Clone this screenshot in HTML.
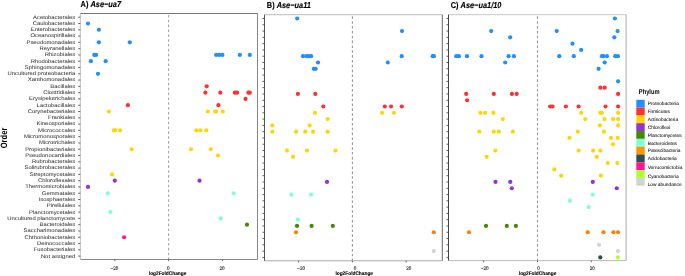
<!DOCTYPE html>
<html><head><meta charset="utf-8"><style>
html,body{margin:0;padding:0;background:#fff;width:685px;height:276px;overflow:hidden}
svg{display:block;text-rendering:geometricPrecision}
</style></head><body>
<svg width="685" height="276" viewBox="0 0 685 276" font-family='"Liberation Sans", Arial, Helvetica, sans-serif'>
<rect width="685" height="276" fill="#fff"/>
<line x1="168.6" y1="14.9" x2="168.6" y2="259.5" stroke="#a8a8a8" stroke-width="1.1" stroke-dasharray="2.6 2.253"/>
<circle cx="88.0" cy="23.49" r="2.1" fill="#1E90FF"/>
<circle cx="98.9" cy="29.77" r="2.1" fill="#1E90FF"/>
<circle cx="98.9" cy="42.35" r="2.1" fill="#1E90FF"/>
<circle cx="129.8" cy="42.35" r="2.1" fill="#1E90FF"/>
<circle cx="94.3" cy="54.92" r="2.1" fill="#1E90FF"/>
<circle cx="96.1" cy="54.92" r="2.1" fill="#1E90FF"/>
<circle cx="216.2" cy="54.92" r="2.1" fill="#1E90FF"/>
<circle cx="219.3" cy="54.92" r="2.1" fill="#1E90FF"/>
<circle cx="222.4" cy="54.92" r="2.1" fill="#1E90FF"/>
<circle cx="239.8" cy="54.92" r="2.1" fill="#1E90FF"/>
<circle cx="249.8" cy="54.92" r="2.1" fill="#1E90FF"/>
<circle cx="90.9" cy="61.21" r="2.1" fill="#1E90FF"/>
<circle cx="105.7" cy="61.21" r="2.1" fill="#1E90FF"/>
<circle cx="98.0" cy="73.78" r="2.1" fill="#1E90FF"/>
<circle cx="206.7" cy="86.36" r="2.1" fill="#FF3030"/>
<circle cx="205.4" cy="92.64" r="2.1" fill="#FF3030"/>
<circle cx="220.3" cy="92.64" r="2.1" fill="#FF3030"/>
<circle cx="234.8" cy="92.64" r="2.1" fill="#FF3030"/>
<circle cx="237.1" cy="92.64" r="2.1" fill="#FF3030"/>
<circle cx="248.4" cy="92.64" r="2.1" fill="#FF3030"/>
<circle cx="249.8" cy="92.64" r="2.1" fill="#FF3030"/>
<circle cx="245.5" cy="98.93" r="2.1" fill="#FF3030"/>
<circle cx="127.9" cy="105.22" r="2.1" fill="#FF3030"/>
<circle cx="218.4" cy="105.22" r="2.1" fill="#FF3030"/>
<circle cx="108.9" cy="111.50" r="2.1" fill="#FFD700"/>
<circle cx="207.9" cy="111.50" r="2.1" fill="#FFD700"/>
<circle cx="215.2" cy="111.50" r="2.1" fill="#FFD700"/>
<circle cx="216.2" cy="111.50" r="2.1" fill="#FFD700"/>
<circle cx="222.8" cy="111.50" r="2.1" fill="#FFD700"/>
<circle cx="113.8" cy="130.37" r="2.1" fill="#FFD700"/>
<circle cx="115.2" cy="130.37" r="2.1" fill="#FFD700"/>
<circle cx="120.1" cy="130.37" r="2.1" fill="#FFD700"/>
<circle cx="196.4" cy="130.37" r="2.1" fill="#FFD700"/>
<circle cx="200.4" cy="130.37" r="2.1" fill="#FFD700"/>
<circle cx="206.3" cy="130.37" r="2.1" fill="#FFD700"/>
<circle cx="131.7" cy="149.23" r="2.1" fill="#FFD700"/>
<circle cx="191.0" cy="149.23" r="2.1" fill="#FFD700"/>
<circle cx="210.8" cy="149.23" r="2.1" fill="#FFD700"/>
<circle cx="218.0" cy="155.51" r="2.1" fill="#FFD700"/>
<circle cx="112.0" cy="174.38" r="2.1" fill="#FFD700"/>
<circle cx="114.8" cy="180.66" r="2.1" fill="#9932CC"/>
<circle cx="199.5" cy="180.66" r="2.1" fill="#9932CC"/>
<circle cx="88.0" cy="186.95" r="2.1" fill="#9932CC"/>
<circle cx="107.9" cy="193.24" r="2.1" fill="#7FFFD4"/>
<circle cx="233.7" cy="193.24" r="2.1" fill="#7FFFD4"/>
<circle cx="110.4" cy="212.10" r="2.1" fill="#7FFFD4"/>
<circle cx="220.8" cy="218.38" r="2.1" fill="#7FFFD4"/>
<circle cx="247.0" cy="224.67" r="2.1" fill="#458B00"/>
<circle cx="124.1" cy="237.24" r="2.1" fill="#FF1493"/>
<line x1="80.3" y1="13.5" x2="257.5" y2="13.5" stroke="#777" stroke-width="1"/>
<line x1="257.5" y1="13.5" x2="257.5" y2="259.5" stroke="#888" stroke-width="1"/>
<line x1="80.3" y1="259.5" x2="257.5" y2="259.5" stroke="#888" stroke-width="1"/>
<line x1="80.3" y1="13.5" x2="80.3" y2="259.5" stroke="#bdbdbd" stroke-width="1"/>
<line x1="78.2" y1="17.20" x2="80.3" y2="17.20" stroke="#333" stroke-width="0.75"/>
<line x1="78.2" y1="23.49" x2="80.3" y2="23.49" stroke="#333" stroke-width="0.75"/>
<line x1="78.2" y1="29.77" x2="80.3" y2="29.77" stroke="#333" stroke-width="0.75"/>
<line x1="78.2" y1="36.06" x2="80.3" y2="36.06" stroke="#333" stroke-width="0.75"/>
<line x1="78.2" y1="42.35" x2="80.3" y2="42.35" stroke="#333" stroke-width="0.75"/>
<line x1="78.2" y1="48.63" x2="80.3" y2="48.63" stroke="#333" stroke-width="0.75"/>
<line x1="78.2" y1="54.92" x2="80.3" y2="54.92" stroke="#333" stroke-width="0.75"/>
<line x1="78.2" y1="61.21" x2="80.3" y2="61.21" stroke="#333" stroke-width="0.75"/>
<line x1="78.2" y1="67.50" x2="80.3" y2="67.50" stroke="#333" stroke-width="0.75"/>
<line x1="78.2" y1="73.78" x2="80.3" y2="73.78" stroke="#333" stroke-width="0.75"/>
<line x1="78.2" y1="80.07" x2="80.3" y2="80.07" stroke="#333" stroke-width="0.75"/>
<line x1="78.2" y1="86.36" x2="80.3" y2="86.36" stroke="#333" stroke-width="0.75"/>
<line x1="78.2" y1="92.64" x2="80.3" y2="92.64" stroke="#333" stroke-width="0.75"/>
<line x1="78.2" y1="98.93" x2="80.3" y2="98.93" stroke="#333" stroke-width="0.75"/>
<line x1="78.2" y1="105.22" x2="80.3" y2="105.22" stroke="#333" stroke-width="0.75"/>
<line x1="78.2" y1="111.50" x2="80.3" y2="111.50" stroke="#333" stroke-width="0.75"/>
<line x1="78.2" y1="117.79" x2="80.3" y2="117.79" stroke="#333" stroke-width="0.75"/>
<line x1="78.2" y1="124.08" x2="80.3" y2="124.08" stroke="#333" stroke-width="0.75"/>
<line x1="78.2" y1="130.37" x2="80.3" y2="130.37" stroke="#333" stroke-width="0.75"/>
<line x1="78.2" y1="136.65" x2="80.3" y2="136.65" stroke="#333" stroke-width="0.75"/>
<line x1="78.2" y1="142.94" x2="80.3" y2="142.94" stroke="#333" stroke-width="0.75"/>
<line x1="78.2" y1="149.23" x2="80.3" y2="149.23" stroke="#333" stroke-width="0.75"/>
<line x1="78.2" y1="155.51" x2="80.3" y2="155.51" stroke="#333" stroke-width="0.75"/>
<line x1="78.2" y1="161.80" x2="80.3" y2="161.80" stroke="#333" stroke-width="0.75"/>
<line x1="78.2" y1="168.09" x2="80.3" y2="168.09" stroke="#333" stroke-width="0.75"/>
<line x1="78.2" y1="174.38" x2="80.3" y2="174.38" stroke="#333" stroke-width="0.75"/>
<line x1="78.2" y1="180.66" x2="80.3" y2="180.66" stroke="#333" stroke-width="0.75"/>
<line x1="78.2" y1="186.95" x2="80.3" y2="186.95" stroke="#333" stroke-width="0.75"/>
<line x1="78.2" y1="193.24" x2="80.3" y2="193.24" stroke="#333" stroke-width="0.75"/>
<line x1="78.2" y1="199.52" x2="80.3" y2="199.52" stroke="#333" stroke-width="0.75"/>
<line x1="78.2" y1="205.81" x2="80.3" y2="205.81" stroke="#333" stroke-width="0.75"/>
<line x1="78.2" y1="212.10" x2="80.3" y2="212.10" stroke="#333" stroke-width="0.75"/>
<line x1="78.2" y1="218.38" x2="80.3" y2="218.38" stroke="#333" stroke-width="0.75"/>
<line x1="78.2" y1="224.67" x2="80.3" y2="224.67" stroke="#333" stroke-width="0.75"/>
<line x1="78.2" y1="230.96" x2="80.3" y2="230.96" stroke="#333" stroke-width="0.75"/>
<line x1="78.2" y1="237.24" x2="80.3" y2="237.24" stroke="#333" stroke-width="0.75"/>
<line x1="78.2" y1="243.53" x2="80.3" y2="243.53" stroke="#333" stroke-width="0.75"/>
<line x1="78.2" y1="249.82" x2="80.3" y2="249.82" stroke="#333" stroke-width="0.75"/>
<line x1="78.2" y1="256.11" x2="80.3" y2="256.11" stroke="#333" stroke-width="0.75"/>
<line x1="114.80" y1="259.5" x2="114.80" y2="261.1" stroke="#333" stroke-width="0.75"/>
<g transform="translate(114.40,269.7) scale(1,1.12)"><text x="0" y="0" font-size="4.6" text-anchor="middle" fill="#222" stroke="#222" stroke-width="0.1">−20</text></g>
<line x1="168.60" y1="259.5" x2="168.60" y2="261.1" stroke="#333" stroke-width="0.75"/>
<g transform="translate(168.20,269.7) scale(1,1.12)"><text x="0" y="0" font-size="4.6" text-anchor="middle" fill="#222" stroke="#222" stroke-width="0.1">0</text></g>
<line x1="222.40" y1="259.5" x2="222.40" y2="261.1" stroke="#333" stroke-width="0.75"/>
<g transform="translate(222.00,269.7) scale(1,1.12)"><text x="0" y="0" font-size="4.6" text-anchor="middle" fill="#222" stroke="#222" stroke-width="0.1">20</text></g>
<g transform="translate(167.6,274.9) scale(1,1.08)"><text x="0" y="0" font-size="4.8" font-weight="bold" text-anchor="middle" fill="#000" stroke="#000" stroke-width="0.08">log2FoldChange</text></g>
<g transform="translate(80.6,7.4) scale(1,1.16)"><text x="0" y="0" font-size="7.4" font-weight="bold" fill="#000" stroke="#000" stroke-width="0.12">A) <tspan font-style="italic">Ase−ua7</tspan></text></g>
<g transform="translate(75.2,18.60) scale(1.13,1)"><text x="0" y="0" font-size="5.21" text-anchor="end" fill="#333" stroke="#333" stroke-width="0.03">Acetobacterales</text></g>
<g transform="translate(75.2,24.89) scale(1.13,1)"><text x="0" y="0" font-size="5.21" text-anchor="end" fill="#333" stroke="#333" stroke-width="0.03">Caulobacterales</text></g>
<g transform="translate(75.2,31.17) scale(1.13,1)"><text x="0" y="0" font-size="5.21" text-anchor="end" fill="#333" stroke="#333" stroke-width="0.03">Enterobacterales</text></g>
<g transform="translate(75.2,37.46) scale(1.13,1)"><text x="0" y="0" font-size="5.21" text-anchor="end" fill="#333" stroke="#333" stroke-width="0.03">Oceanospirillales</text></g>
<g transform="translate(75.2,43.75) scale(1.13,1)"><text x="0" y="0" font-size="5.21" text-anchor="end" fill="#333" stroke="#333" stroke-width="0.03">Pseudomonadales</text></g>
<g transform="translate(75.2,50.03) scale(1.13,1)"><text x="0" y="0" font-size="5.21" text-anchor="end" fill="#333" stroke="#333" stroke-width="0.03">Reyranellales</text></g>
<g transform="translate(75.2,56.32) scale(1.13,1)"><text x="0" y="0" font-size="5.21" text-anchor="end" fill="#333" stroke="#333" stroke-width="0.03">Rhizobiales</text></g>
<g transform="translate(75.2,62.61) scale(1.13,1)"><text x="0" y="0" font-size="5.21" text-anchor="end" fill="#333" stroke="#333" stroke-width="0.03">Rhodobacterales</text></g>
<g transform="translate(75.2,68.90) scale(1.13,1)"><text x="0" y="0" font-size="5.21" text-anchor="end" fill="#333" stroke="#333" stroke-width="0.03">Sphingomonadales</text></g>
<g transform="translate(75.2,75.18) scale(1.13,1)"><text x="0" y="0" font-size="5.21" text-anchor="end" fill="#333" stroke="#333" stroke-width="0.03">Uncultured proteobacteria</text></g>
<g transform="translate(75.2,81.47) scale(1.13,1)"><text x="0" y="0" font-size="5.21" text-anchor="end" fill="#333" stroke="#333" stroke-width="0.03">Xanthomonadales</text></g>
<g transform="translate(75.2,87.76) scale(1.13,1)"><text x="0" y="0" font-size="5.21" text-anchor="end" fill="#333" stroke="#333" stroke-width="0.03">Bacillales</text></g>
<g transform="translate(75.2,94.04) scale(1.13,1)"><text x="0" y="0" font-size="5.21" text-anchor="end" fill="#333" stroke="#333" stroke-width="0.03">Clostridiales</text></g>
<g transform="translate(75.2,100.33) scale(1.13,1)"><text x="0" y="0" font-size="5.21" text-anchor="end" fill="#333" stroke="#333" stroke-width="0.03">Erysipelotrichales</text></g>
<g transform="translate(75.2,106.62) scale(1.13,1)"><text x="0" y="0" font-size="5.21" text-anchor="end" fill="#333" stroke="#333" stroke-width="0.03">Lactobacillales</text></g>
<g transform="translate(75.2,112.91) scale(1.13,1)"><text x="0" y="0" font-size="5.21" text-anchor="end" fill="#333" stroke="#333" stroke-width="0.03">Corynebacteriales</text></g>
<g transform="translate(75.2,119.19) scale(1.13,1)"><text x="0" y="0" font-size="5.21" text-anchor="end" fill="#333" stroke="#333" stroke-width="0.03">Frankiales</text></g>
<g transform="translate(75.2,125.48) scale(1.13,1)"><text x="0" y="0" font-size="5.21" text-anchor="end" fill="#333" stroke="#333" stroke-width="0.03">Kineosporiales</text></g>
<g transform="translate(75.2,131.77) scale(1.13,1)"><text x="0" y="0" font-size="5.21" text-anchor="end" fill="#333" stroke="#333" stroke-width="0.03">Micrococcales</text></g>
<g transform="translate(75.2,138.05) scale(1.13,1)"><text x="0" y="0" font-size="5.21" text-anchor="end" fill="#333" stroke="#333" stroke-width="0.03">Micromonosporales</text></g>
<g transform="translate(75.2,144.34) scale(1.13,1)"><text x="0" y="0" font-size="5.21" text-anchor="end" fill="#333" stroke="#333" stroke-width="0.03">Microtrichales</text></g>
<g transform="translate(75.2,150.63) scale(1.13,1)"><text x="0" y="0" font-size="5.21" text-anchor="end" fill="#333" stroke="#333" stroke-width="0.03">Propionibacteriales</text></g>
<g transform="translate(75.2,156.91) scale(1.13,1)"><text x="0" y="0" font-size="5.21" text-anchor="end" fill="#333" stroke="#333" stroke-width="0.03">Pseudonocardiales</text></g>
<g transform="translate(75.2,163.20) scale(1.13,1)"><text x="0" y="0" font-size="5.21" text-anchor="end" fill="#333" stroke="#333" stroke-width="0.03">Rubrobacterales</text></g>
<g transform="translate(75.2,169.49) scale(1.13,1)"><text x="0" y="0" font-size="5.21" text-anchor="end" fill="#333" stroke="#333" stroke-width="0.03">Solirubrobacterales</text></g>
<g transform="translate(75.2,175.78) scale(1.13,1)"><text x="0" y="0" font-size="5.21" text-anchor="end" fill="#333" stroke="#333" stroke-width="0.03">Streptomycetales</text></g>
<g transform="translate(75.2,182.06) scale(1.13,1)"><text x="0" y="0" font-size="5.21" text-anchor="end" fill="#333" stroke="#333" stroke-width="0.03">Chloroflexales</text></g>
<g transform="translate(75.2,188.35) scale(1.13,1)"><text x="0" y="0" font-size="5.21" text-anchor="end" fill="#333" stroke="#333" stroke-width="0.03">Thermomicrobiales</text></g>
<g transform="translate(75.2,194.64) scale(1.13,1)"><text x="0" y="0" font-size="5.21" text-anchor="end" fill="#333" stroke="#333" stroke-width="0.03">Gemmatales</text></g>
<g transform="translate(75.2,200.92) scale(1.13,1)"><text x="0" y="0" font-size="5.21" text-anchor="end" fill="#333" stroke="#333" stroke-width="0.03">Isosphaerales</text></g>
<g transform="translate(75.2,207.21) scale(1.13,1)"><text x="0" y="0" font-size="5.21" text-anchor="end" fill="#333" stroke="#333" stroke-width="0.03">Pirellulales</text></g>
<g transform="translate(75.2,213.50) scale(1.13,1)"><text x="0" y="0" font-size="5.21" text-anchor="end" fill="#333" stroke="#333" stroke-width="0.03">Planctomycetales</text></g>
<g transform="translate(75.2,219.78) scale(1.13,1)"><text x="0" y="0" font-size="5.21" text-anchor="end" fill="#333" stroke="#333" stroke-width="0.03">Uncultured planctomycete</text></g>
<g transform="translate(75.2,226.07) scale(1.13,1)"><text x="0" y="0" font-size="5.21" text-anchor="end" fill="#333" stroke="#333" stroke-width="0.03">Bacteroidales</text></g>
<g transform="translate(75.2,232.36) scale(1.13,1)"><text x="0" y="0" font-size="5.21" text-anchor="end" fill="#333" stroke="#333" stroke-width="0.03">Saccharimonadales</text></g>
<g transform="translate(75.2,238.64) scale(1.13,1)"><text x="0" y="0" font-size="5.21" text-anchor="end" fill="#333" stroke="#333" stroke-width="0.03">Chthoniobacterales</text></g>
<g transform="translate(75.2,244.93) scale(1.13,1)"><text x="0" y="0" font-size="5.21" text-anchor="end" fill="#333" stroke="#333" stroke-width="0.03">Deinococcales</text></g>
<g transform="translate(75.2,251.22) scale(1.13,1)"><text x="0" y="0" font-size="5.21" text-anchor="end" fill="#333" stroke="#333" stroke-width="0.03">Fusobacteriales</text></g>
<g transform="translate(75.2,257.51) scale(1.13,1)"><text x="0" y="0" font-size="5.21" text-anchor="end" fill="#333" stroke="#333" stroke-width="0.03">Not assigned</text></g>
<line x1="352.4" y1="16.3" x2="352.4" y2="260.8" stroke="#999" stroke-width="1.1" stroke-dasharray="2.6 2.246"/>
<circle cx="297.2" cy="18.50" r="2.1" fill="#1E90FF"/>
<circle cx="402.0" cy="31.07" r="2.1" fill="#1E90FF"/>
<circle cx="303.0" cy="56.22" r="2.1" fill="#1E90FF"/>
<circle cx="306.4" cy="56.22" r="2.1" fill="#1E90FF"/>
<circle cx="308.8" cy="56.22" r="2.1" fill="#1E90FF"/>
<circle cx="311.1" cy="56.22" r="2.1" fill="#1E90FF"/>
<circle cx="401.7" cy="56.22" r="2.1" fill="#1E90FF"/>
<circle cx="432.7" cy="56.22" r="2.1" fill="#1E90FF"/>
<circle cx="433.9" cy="56.22" r="2.1" fill="#1E90FF"/>
<circle cx="318.0" cy="62.51" r="2.1" fill="#1E90FF"/>
<circle cx="387.8" cy="62.51" r="2.1" fill="#1E90FF"/>
<circle cx="313.8" cy="68.80" r="2.1" fill="#1E90FF"/>
<circle cx="315.7" cy="68.80" r="2.1" fill="#1E90FF"/>
<circle cx="297.9" cy="93.94" r="2.1" fill="#FF3030"/>
<circle cx="315.3" cy="93.94" r="2.1" fill="#FF3030"/>
<circle cx="323.3" cy="106.52" r="2.1" fill="#FF3030"/>
<circle cx="384.8" cy="106.52" r="2.1" fill="#FF3030"/>
<circle cx="391.1" cy="106.52" r="2.1" fill="#FF3030"/>
<circle cx="401.8" cy="106.52" r="2.1" fill="#FF3030"/>
<circle cx="315.0" cy="112.80" r="2.1" fill="#FFD700"/>
<circle cx="382.0" cy="112.80" r="2.1" fill="#FFD700"/>
<circle cx="394.0" cy="112.80" r="2.1" fill="#FFD700"/>
<circle cx="327.7" cy="119.09" r="2.1" fill="#FFD700"/>
<circle cx="272.2" cy="125.38" r="2.1" fill="#FFD700"/>
<circle cx="309.6" cy="125.38" r="2.1" fill="#FFD700"/>
<circle cx="272.4" cy="131.67" r="2.1" fill="#FFD700"/>
<circle cx="296.1" cy="131.67" r="2.1" fill="#FFD700"/>
<circle cx="305.3" cy="131.67" r="2.1" fill="#FFD700"/>
<circle cx="313.1" cy="131.67" r="2.1" fill="#FFD700"/>
<circle cx="327.7" cy="131.67" r="2.1" fill="#FFD700"/>
<circle cx="287.0" cy="150.53" r="2.1" fill="#FFD700"/>
<circle cx="307.0" cy="150.53" r="2.1" fill="#FFD700"/>
<circle cx="335.5" cy="150.53" r="2.1" fill="#FFD700"/>
<circle cx="293.1" cy="156.81" r="2.1" fill="#FFD700"/>
<circle cx="327.0" cy="181.96" r="2.1" fill="#9932CC"/>
<circle cx="291.3" cy="194.54" r="2.1" fill="#7FFFD4"/>
<circle cx="311.1" cy="194.54" r="2.1" fill="#7FFFD4"/>
<circle cx="297.8" cy="219.68" r="2.1" fill="#7FFFD4"/>
<circle cx="297.0" cy="225.97" r="2.1" fill="#458B00"/>
<circle cx="311.6" cy="225.97" r="2.1" fill="#458B00"/>
<circle cx="332.8" cy="225.97" r="2.1" fill="#458B00"/>
<circle cx="296.0" cy="232.26" r="2.1" fill="#FF8000"/>
<circle cx="433.8" cy="232.26" r="2.1" fill="#FF8000"/>
<circle cx="433.8" cy="251.12" r="2.1" fill="#D3D3D3"/>
<line x1="264.5" y1="14.7" x2="442.3" y2="14.7" stroke="#bbb" stroke-width="1"/>
<line x1="442.3" y1="14.7" x2="442.3" y2="260.8" stroke="#666" stroke-width="1"/>
<line x1="264.5" y1="260.8" x2="442.3" y2="260.8" stroke="#aaa" stroke-width="1"/>
<line x1="264.5" y1="14.7" x2="264.5" y2="260.8" stroke="#555" stroke-width="1"/>
<line x1="262.4" y1="18.50" x2="264.5" y2="18.50" stroke="#333" stroke-width="0.75"/>
<line x1="262.4" y1="24.79" x2="264.5" y2="24.79" stroke="#333" stroke-width="0.75"/>
<line x1="262.4" y1="31.07" x2="264.5" y2="31.07" stroke="#333" stroke-width="0.75"/>
<line x1="262.4" y1="37.36" x2="264.5" y2="37.36" stroke="#333" stroke-width="0.75"/>
<line x1="262.4" y1="43.65" x2="264.5" y2="43.65" stroke="#333" stroke-width="0.75"/>
<line x1="262.4" y1="49.94" x2="264.5" y2="49.94" stroke="#333" stroke-width="0.75"/>
<line x1="262.4" y1="56.22" x2="264.5" y2="56.22" stroke="#333" stroke-width="0.75"/>
<line x1="262.4" y1="62.51" x2="264.5" y2="62.51" stroke="#333" stroke-width="0.75"/>
<line x1="262.4" y1="68.80" x2="264.5" y2="68.80" stroke="#333" stroke-width="0.75"/>
<line x1="262.4" y1="75.08" x2="264.5" y2="75.08" stroke="#333" stroke-width="0.75"/>
<line x1="262.4" y1="81.37" x2="264.5" y2="81.37" stroke="#333" stroke-width="0.75"/>
<line x1="262.4" y1="87.66" x2="264.5" y2="87.66" stroke="#333" stroke-width="0.75"/>
<line x1="262.4" y1="93.94" x2="264.5" y2="93.94" stroke="#333" stroke-width="0.75"/>
<line x1="262.4" y1="100.23" x2="264.5" y2="100.23" stroke="#333" stroke-width="0.75"/>
<line x1="262.4" y1="106.52" x2="264.5" y2="106.52" stroke="#333" stroke-width="0.75"/>
<line x1="262.4" y1="112.80" x2="264.5" y2="112.80" stroke="#333" stroke-width="0.75"/>
<line x1="262.4" y1="119.09" x2="264.5" y2="119.09" stroke="#333" stroke-width="0.75"/>
<line x1="262.4" y1="125.38" x2="264.5" y2="125.38" stroke="#333" stroke-width="0.75"/>
<line x1="262.4" y1="131.67" x2="264.5" y2="131.67" stroke="#333" stroke-width="0.75"/>
<line x1="262.4" y1="137.95" x2="264.5" y2="137.95" stroke="#333" stroke-width="0.75"/>
<line x1="262.4" y1="144.24" x2="264.5" y2="144.24" stroke="#333" stroke-width="0.75"/>
<line x1="262.4" y1="150.53" x2="264.5" y2="150.53" stroke="#333" stroke-width="0.75"/>
<line x1="262.4" y1="156.81" x2="264.5" y2="156.81" stroke="#333" stroke-width="0.75"/>
<line x1="262.4" y1="163.10" x2="264.5" y2="163.10" stroke="#333" stroke-width="0.75"/>
<line x1="262.4" y1="169.39" x2="264.5" y2="169.39" stroke="#333" stroke-width="0.75"/>
<line x1="262.4" y1="175.68" x2="264.5" y2="175.68" stroke="#333" stroke-width="0.75"/>
<line x1="262.4" y1="181.96" x2="264.5" y2="181.96" stroke="#333" stroke-width="0.75"/>
<line x1="262.4" y1="188.25" x2="264.5" y2="188.25" stroke="#333" stroke-width="0.75"/>
<line x1="262.4" y1="194.54" x2="264.5" y2="194.54" stroke="#333" stroke-width="0.75"/>
<line x1="262.4" y1="200.82" x2="264.5" y2="200.82" stroke="#333" stroke-width="0.75"/>
<line x1="262.4" y1="207.11" x2="264.5" y2="207.11" stroke="#333" stroke-width="0.75"/>
<line x1="262.4" y1="213.40" x2="264.5" y2="213.40" stroke="#333" stroke-width="0.75"/>
<line x1="262.4" y1="219.68" x2="264.5" y2="219.68" stroke="#333" stroke-width="0.75"/>
<line x1="262.4" y1="225.97" x2="264.5" y2="225.97" stroke="#333" stroke-width="0.75"/>
<line x1="262.4" y1="232.26" x2="264.5" y2="232.26" stroke="#333" stroke-width="0.75"/>
<line x1="262.4" y1="238.54" x2="264.5" y2="238.54" stroke="#333" stroke-width="0.75"/>
<line x1="262.4" y1="244.83" x2="264.5" y2="244.83" stroke="#333" stroke-width="0.75"/>
<line x1="262.4" y1="251.12" x2="264.5" y2="251.12" stroke="#333" stroke-width="0.75"/>
<line x1="262.4" y1="257.41" x2="264.5" y2="257.41" stroke="#333" stroke-width="0.75"/>
<line x1="298.60" y1="260.8" x2="298.60" y2="262.40000000000003" stroke="#333" stroke-width="0.75"/>
<g transform="translate(301.20,269.7) scale(1,1.12)"><text x="0" y="0" font-size="4.6" text-anchor="middle" fill="#222" stroke="#222" stroke-width="0.1">−20</text></g>
<line x1="352.40" y1="260.8" x2="352.40" y2="262.40000000000003" stroke="#333" stroke-width="0.75"/>
<g transform="translate(355.00,269.7) scale(1,1.12)"><text x="0" y="0" font-size="4.6" text-anchor="middle" fill="#222" stroke="#222" stroke-width="0.1">0</text></g>
<line x1="406.20" y1="260.8" x2="406.20" y2="262.40000000000003" stroke="#333" stroke-width="0.75"/>
<g transform="translate(408.80,269.7) scale(1,1.12)"><text x="0" y="0" font-size="4.6" text-anchor="middle" fill="#222" stroke="#222" stroke-width="0.1">20</text></g>
<g transform="translate(354.2,274.9) scale(1,1.08)"><text x="0" y="0" font-size="4.8" font-weight="bold" text-anchor="middle" fill="#000" stroke="#000" stroke-width="0.08">log2FoldChange</text></g>
<g transform="translate(266.8,8.1) scale(1,1.16)"><text x="0" y="0" font-size="7.4" font-weight="bold" fill="#000" stroke="#000" stroke-width="0.12">B) <tspan font-style="italic">Ase−ua11</tspan></text></g>
<line x1="537.5" y1="16.3" x2="537.5" y2="260.6" stroke="#999" stroke-width="1.1" stroke-dasharray="2.6 2.246"/>
<circle cx="614.9" cy="18.50" r="2.1" fill="#1E90FF"/>
<circle cx="491.2" cy="31.07" r="2.1" fill="#1E90FF"/>
<circle cx="556.7" cy="31.07" r="2.1" fill="#1E90FF"/>
<circle cx="617.6" cy="31.07" r="2.1" fill="#1E90FF"/>
<circle cx="510.2" cy="37.36" r="2.1" fill="#1E90FF"/>
<circle cx="614.3" cy="37.36" r="2.1" fill="#1E90FF"/>
<circle cx="572.5" cy="43.65" r="2.1" fill="#1E90FF"/>
<circle cx="581.2" cy="49.94" r="2.1" fill="#1E90FF"/>
<circle cx="456.2" cy="56.22" r="2.1" fill="#1E90FF"/>
<circle cx="458.9" cy="56.22" r="2.1" fill="#1E90FF"/>
<circle cx="467.0" cy="56.22" r="2.1" fill="#1E90FF"/>
<circle cx="481.5" cy="56.22" r="2.1" fill="#1E90FF"/>
<circle cx="508.6" cy="56.22" r="2.1" fill="#1E90FF"/>
<circle cx="513.9" cy="56.22" r="2.1" fill="#1E90FF"/>
<circle cx="559.3" cy="56.22" r="2.1" fill="#1E90FF"/>
<circle cx="573.8" cy="56.22" r="2.1" fill="#1E90FF"/>
<circle cx="601.9" cy="56.22" r="2.1" fill="#1E90FF"/>
<circle cx="603.4" cy="56.22" r="2.1" fill="#1E90FF"/>
<circle cx="606.9" cy="56.22" r="2.1" fill="#1E90FF"/>
<circle cx="615.2" cy="56.22" r="2.1" fill="#1E90FF"/>
<circle cx="617.9" cy="56.22" r="2.1" fill="#1E90FF"/>
<circle cx="505.2" cy="62.51" r="2.1" fill="#1E90FF"/>
<circle cx="604.7" cy="62.51" r="2.1" fill="#1E90FF"/>
<circle cx="598.6" cy="68.80" r="2.1" fill="#1E90FF"/>
<circle cx="618.1" cy="81.37" r="2.1" fill="#1E90FF"/>
<circle cx="600.4" cy="87.66" r="2.1" fill="#FF3030"/>
<circle cx="604.7" cy="87.66" r="2.1" fill="#FF3030"/>
<circle cx="466.2" cy="93.94" r="2.1" fill="#FF3030"/>
<circle cx="493.8" cy="93.94" r="2.1" fill="#FF3030"/>
<circle cx="511.9" cy="93.94" r="2.1" fill="#FF3030"/>
<circle cx="516.7" cy="93.94" r="2.1" fill="#FF3030"/>
<circle cx="618.1" cy="93.94" r="2.1" fill="#FF3030"/>
<circle cx="467.1" cy="100.23" r="2.1" fill="#FF3030"/>
<circle cx="550.2" cy="106.52" r="2.1" fill="#FF3030"/>
<circle cx="552.5" cy="106.52" r="2.1" fill="#FF3030"/>
<circle cx="565.9" cy="106.52" r="2.1" fill="#FF3030"/>
<circle cx="578.6" cy="106.52" r="2.1" fill="#FF3030"/>
<circle cx="605.5" cy="106.52" r="2.1" fill="#FF3030"/>
<circle cx="618.1" cy="106.52" r="2.1" fill="#FF3030"/>
<circle cx="480.4" cy="112.80" r="2.1" fill="#FFD700"/>
<circle cx="485.1" cy="112.80" r="2.1" fill="#FFD700"/>
<circle cx="493.4" cy="112.80" r="2.1" fill="#FFD700"/>
<circle cx="581.2" cy="112.80" r="2.1" fill="#FFD700"/>
<circle cx="600.2" cy="112.80" r="2.1" fill="#FFD700"/>
<circle cx="601.9" cy="112.80" r="2.1" fill="#FFD700"/>
<circle cx="618.1" cy="112.80" r="2.1" fill="#FFD700"/>
<circle cx="502.8" cy="119.09" r="2.1" fill="#FFD700"/>
<circle cx="585.2" cy="119.09" r="2.1" fill="#FFD700"/>
<circle cx="604.5" cy="119.09" r="2.1" fill="#FFD700"/>
<circle cx="613.1" cy="119.09" r="2.1" fill="#FFD700"/>
<circle cx="618.1" cy="119.09" r="2.1" fill="#FFD700"/>
<circle cx="599.9" cy="125.38" r="2.1" fill="#FFD700"/>
<circle cx="618.1" cy="125.38" r="2.1" fill="#FFD700"/>
<circle cx="479.3" cy="131.67" r="2.1" fill="#FFD700"/>
<circle cx="493.8" cy="131.67" r="2.1" fill="#FFD700"/>
<circle cx="498.8" cy="131.67" r="2.1" fill="#FFD700"/>
<circle cx="512.8" cy="131.67" r="2.1" fill="#FFD700"/>
<circle cx="577.8" cy="131.67" r="2.1" fill="#FFD700"/>
<circle cx="603.9" cy="131.67" r="2.1" fill="#FFD700"/>
<circle cx="569.5" cy="137.95" r="2.1" fill="#FFD700"/>
<circle cx="611.0" cy="137.95" r="2.1" fill="#FFD700"/>
<circle cx="617.8" cy="137.95" r="2.1" fill="#FFD700"/>
<circle cx="613.0" cy="144.24" r="2.1" fill="#FFD700"/>
<circle cx="495.4" cy="150.53" r="2.1" fill="#FFD700"/>
<circle cx="578.6" cy="150.53" r="2.1" fill="#FFD700"/>
<circle cx="593.2" cy="150.53" r="2.1" fill="#FFD700"/>
<circle cx="600.4" cy="150.53" r="2.1" fill="#FFD700"/>
<circle cx="486.7" cy="156.81" r="2.1" fill="#FFD700"/>
<circle cx="596.7" cy="156.81" r="2.1" fill="#FFD700"/>
<circle cx="607.8" cy="163.10" r="2.1" fill="#FFD700"/>
<circle cx="617.3" cy="163.10" r="2.1" fill="#FFD700"/>
<circle cx="554.3" cy="169.39" r="2.1" fill="#FFD700"/>
<circle cx="561.2" cy="175.68" r="2.1" fill="#FFD700"/>
<circle cx="600.9" cy="175.68" r="2.1" fill="#FFD700"/>
<circle cx="495.5" cy="181.96" r="2.1" fill="#9932CC"/>
<circle cx="510.3" cy="181.96" r="2.1" fill="#9932CC"/>
<circle cx="592.8" cy="181.96" r="2.1" fill="#9932CC"/>
<circle cx="511.8" cy="188.25" r="2.1" fill="#9932CC"/>
<circle cx="616.8" cy="188.25" r="2.1" fill="#9932CC"/>
<circle cx="592.8" cy="194.54" r="2.1" fill="#7FFFD4"/>
<circle cx="569.9" cy="200.82" r="2.1" fill="#7FFFD4"/>
<circle cx="588.6" cy="207.11" r="2.1" fill="#7FFFD4"/>
<circle cx="486.0" cy="225.97" r="2.1" fill="#458B00"/>
<circle cx="506.8" cy="225.97" r="2.1" fill="#458B00"/>
<circle cx="515.9" cy="225.97" r="2.1" fill="#458B00"/>
<circle cx="469.0" cy="232.26" r="2.1" fill="#FF8000"/>
<circle cx="587.7" cy="232.26" r="2.1" fill="#FF8000"/>
<circle cx="603.5" cy="232.26" r="2.1" fill="#FF8000"/>
<circle cx="613.4" cy="232.26" r="2.1" fill="#FF8000"/>
<circle cx="618.0" cy="232.26" r="2.1" fill="#FF8000"/>
<circle cx="599.0" cy="244.83" r="2.1" fill="#D3D3D3"/>
<circle cx="617.9" cy="251.12" r="2.1" fill="#D3D3D3"/>
<circle cx="600.3" cy="257.41" r="2.1" fill="#2F4F4F"/>
<circle cx="617.9" cy="257.41" r="2.1" fill="#ADFF2F"/>
<line x1="448.5" y1="14.7" x2="626.1" y2="14.7" stroke="#c8c8c8" stroke-width="1"/>
<line x1="626.1" y1="14.7" x2="626.1" y2="260.6" stroke="#aaa" stroke-width="1"/>
<line x1="448.5" y1="260.6" x2="626.1" y2="260.6" stroke="#bbb" stroke-width="1"/>
<line x1="448.5" y1="14.7" x2="448.5" y2="260.6" stroke="#444" stroke-width="1"/>
<line x1="446.4" y1="18.50" x2="448.5" y2="18.50" stroke="#333" stroke-width="0.75"/>
<line x1="446.4" y1="24.79" x2="448.5" y2="24.79" stroke="#333" stroke-width="0.75"/>
<line x1="446.4" y1="31.07" x2="448.5" y2="31.07" stroke="#333" stroke-width="0.75"/>
<line x1="446.4" y1="37.36" x2="448.5" y2="37.36" stroke="#333" stroke-width="0.75"/>
<line x1="446.4" y1="43.65" x2="448.5" y2="43.65" stroke="#333" stroke-width="0.75"/>
<line x1="446.4" y1="49.94" x2="448.5" y2="49.94" stroke="#333" stroke-width="0.75"/>
<line x1="446.4" y1="56.22" x2="448.5" y2="56.22" stroke="#333" stroke-width="0.75"/>
<line x1="446.4" y1="62.51" x2="448.5" y2="62.51" stroke="#333" stroke-width="0.75"/>
<line x1="446.4" y1="68.80" x2="448.5" y2="68.80" stroke="#333" stroke-width="0.75"/>
<line x1="446.4" y1="75.08" x2="448.5" y2="75.08" stroke="#333" stroke-width="0.75"/>
<line x1="446.4" y1="81.37" x2="448.5" y2="81.37" stroke="#333" stroke-width="0.75"/>
<line x1="446.4" y1="87.66" x2="448.5" y2="87.66" stroke="#333" stroke-width="0.75"/>
<line x1="446.4" y1="93.94" x2="448.5" y2="93.94" stroke="#333" stroke-width="0.75"/>
<line x1="446.4" y1="100.23" x2="448.5" y2="100.23" stroke="#333" stroke-width="0.75"/>
<line x1="446.4" y1="106.52" x2="448.5" y2="106.52" stroke="#333" stroke-width="0.75"/>
<line x1="446.4" y1="112.80" x2="448.5" y2="112.80" stroke="#333" stroke-width="0.75"/>
<line x1="446.4" y1="119.09" x2="448.5" y2="119.09" stroke="#333" stroke-width="0.75"/>
<line x1="446.4" y1="125.38" x2="448.5" y2="125.38" stroke="#333" stroke-width="0.75"/>
<line x1="446.4" y1="131.67" x2="448.5" y2="131.67" stroke="#333" stroke-width="0.75"/>
<line x1="446.4" y1="137.95" x2="448.5" y2="137.95" stroke="#333" stroke-width="0.75"/>
<line x1="446.4" y1="144.24" x2="448.5" y2="144.24" stroke="#333" stroke-width="0.75"/>
<line x1="446.4" y1="150.53" x2="448.5" y2="150.53" stroke="#333" stroke-width="0.75"/>
<line x1="446.4" y1="156.81" x2="448.5" y2="156.81" stroke="#333" stroke-width="0.75"/>
<line x1="446.4" y1="163.10" x2="448.5" y2="163.10" stroke="#333" stroke-width="0.75"/>
<line x1="446.4" y1="169.39" x2="448.5" y2="169.39" stroke="#333" stroke-width="0.75"/>
<line x1="446.4" y1="175.68" x2="448.5" y2="175.68" stroke="#333" stroke-width="0.75"/>
<line x1="446.4" y1="181.96" x2="448.5" y2="181.96" stroke="#333" stroke-width="0.75"/>
<line x1="446.4" y1="188.25" x2="448.5" y2="188.25" stroke="#333" stroke-width="0.75"/>
<line x1="446.4" y1="194.54" x2="448.5" y2="194.54" stroke="#333" stroke-width="0.75"/>
<line x1="446.4" y1="200.82" x2="448.5" y2="200.82" stroke="#333" stroke-width="0.75"/>
<line x1="446.4" y1="207.11" x2="448.5" y2="207.11" stroke="#333" stroke-width="0.75"/>
<line x1="446.4" y1="213.40" x2="448.5" y2="213.40" stroke="#333" stroke-width="0.75"/>
<line x1="446.4" y1="219.68" x2="448.5" y2="219.68" stroke="#333" stroke-width="0.75"/>
<line x1="446.4" y1="225.97" x2="448.5" y2="225.97" stroke="#333" stroke-width="0.75"/>
<line x1="446.4" y1="232.26" x2="448.5" y2="232.26" stroke="#333" stroke-width="0.75"/>
<line x1="446.4" y1="238.54" x2="448.5" y2="238.54" stroke="#333" stroke-width="0.75"/>
<line x1="446.4" y1="244.83" x2="448.5" y2="244.83" stroke="#333" stroke-width="0.75"/>
<line x1="446.4" y1="251.12" x2="448.5" y2="251.12" stroke="#333" stroke-width="0.75"/>
<line x1="446.4" y1="257.41" x2="448.5" y2="257.41" stroke="#333" stroke-width="0.75"/>
<line x1="483.70" y1="260.6" x2="483.70" y2="262.20000000000005" stroke="#333" stroke-width="0.75"/>
<g transform="translate(484.70,269.7) scale(1,1.12)"><text x="0" y="0" font-size="4.6" text-anchor="middle" fill="#222" stroke="#222" stroke-width="0.1">−20</text></g>
<line x1="537.50" y1="260.6" x2="537.50" y2="262.20000000000005" stroke="#333" stroke-width="0.75"/>
<g transform="translate(538.50,269.7) scale(1,1.12)"><text x="0" y="0" font-size="4.6" text-anchor="middle" fill="#222" stroke="#222" stroke-width="0.1">0</text></g>
<line x1="591.30" y1="260.6" x2="591.30" y2="262.20000000000005" stroke="#333" stroke-width="0.75"/>
<g transform="translate(592.30,269.7) scale(1,1.12)"><text x="0" y="0" font-size="4.6" text-anchor="middle" fill="#222" stroke="#222" stroke-width="0.1">20</text></g>
<g transform="translate(537.6,274.9) scale(1,1.08)"><text x="0" y="0" font-size="4.8" font-weight="bold" text-anchor="middle" fill="#000" stroke="#000" stroke-width="0.08">log2FoldChange</text></g>
<g transform="translate(450.7,7.9) scale(1,1.16)"><text x="0" y="0" font-size="7.4" font-weight="bold" fill="#000" stroke="#000" stroke-width="0.12">C) <tspan font-style="italic">Ase−ua1/10</tspan></text></g>
<rect x="258.9" y="7.0" width="3" height="1" fill="#eee"/>
<g transform="translate(6.6,138.0) rotate(-90) scale(1,1.2)"><text x="0" y="0" font-size="7.6" font-weight="bold" text-anchor="middle" fill="#000">Order</text></g>
<g transform="translate(638.8,94.3) scale(1,1.22)"><text x="0" y="0" font-size="5.75" font-weight="bold" fill="#000">Phylum</text></g>
<rect x="636.3" y="99.80" width="8.4" height="7.81" fill="#1E90FF"/>
<text x="647.7" y="105.30" font-size="4.8" fill="#111" stroke="#111" stroke-width="0.06">Proteobacteria</text>
<rect x="636.3" y="107.61" width="8.4" height="7.81" fill="#FF3030"/>
<text x="647.7" y="112.90" font-size="4.8" fill="#111" stroke="#111" stroke-width="0.06">Firmicutes</text>
<rect x="636.3" y="115.42" width="8.4" height="7.81" fill="#FFD700"/>
<text x="647.7" y="120.90" font-size="4.8" fill="#111" stroke="#111" stroke-width="0.06">Actinobacteria</text>
<rect x="636.3" y="123.23" width="8.4" height="7.81" fill="#9932CC"/>
<text x="647.7" y="128.70" font-size="4.8" fill="#111" stroke="#111" stroke-width="0.06">Chloroflexi</text>
<rect x="636.3" y="131.04" width="8.4" height="7.81" fill="#458B00"/>
<text x="647.7" y="136.80" font-size="4.8" fill="#111" stroke="#111" stroke-width="0.06">Planctomycetes</text>
<rect x="636.3" y="138.85" width="8.4" height="7.81" fill="#7FFFD4"/>
<text x="647.7" y="144.70" font-size="4.8" fill="#111" stroke="#111" stroke-width="0.06">Bacteroidetes</text>
<rect x="636.3" y="146.66" width="8.4" height="7.81" fill="#FF9500"/>
<text x="647.7" y="152.40" font-size="4.8" fill="#111" stroke="#111" stroke-width="0.06">Patescibacteria</text>
<rect x="636.3" y="154.47" width="8.4" height="7.81" fill="#2F4F4F"/>
<text x="647.7" y="160.30" font-size="4.8" fill="#111" stroke="#111" stroke-width="0.06">Acidobacteria</text>
<rect x="636.3" y="162.28" width="8.4" height="7.81" fill="#FF1493"/>
<text x="647.7" y="169.00" font-size="4.8" fill="#111" stroke="#111" stroke-width="0.06">Verrucomicrobia</text>
<rect x="636.3" y="170.09" width="8.4" height="7.81" fill="#ADFF2F"/>
<text x="647.7" y="177.60" font-size="4.8" fill="#111" stroke="#111" stroke-width="0.06">Cyanobacteria</text>
<rect x="636.3" y="177.90" width="8.4" height="7.81" fill="#D3D3D3"/>
<text x="647.7" y="186.00" font-size="4.8" fill="#111" stroke="#111" stroke-width="0.06">Low abundance</text>
</svg>
</body></html>
